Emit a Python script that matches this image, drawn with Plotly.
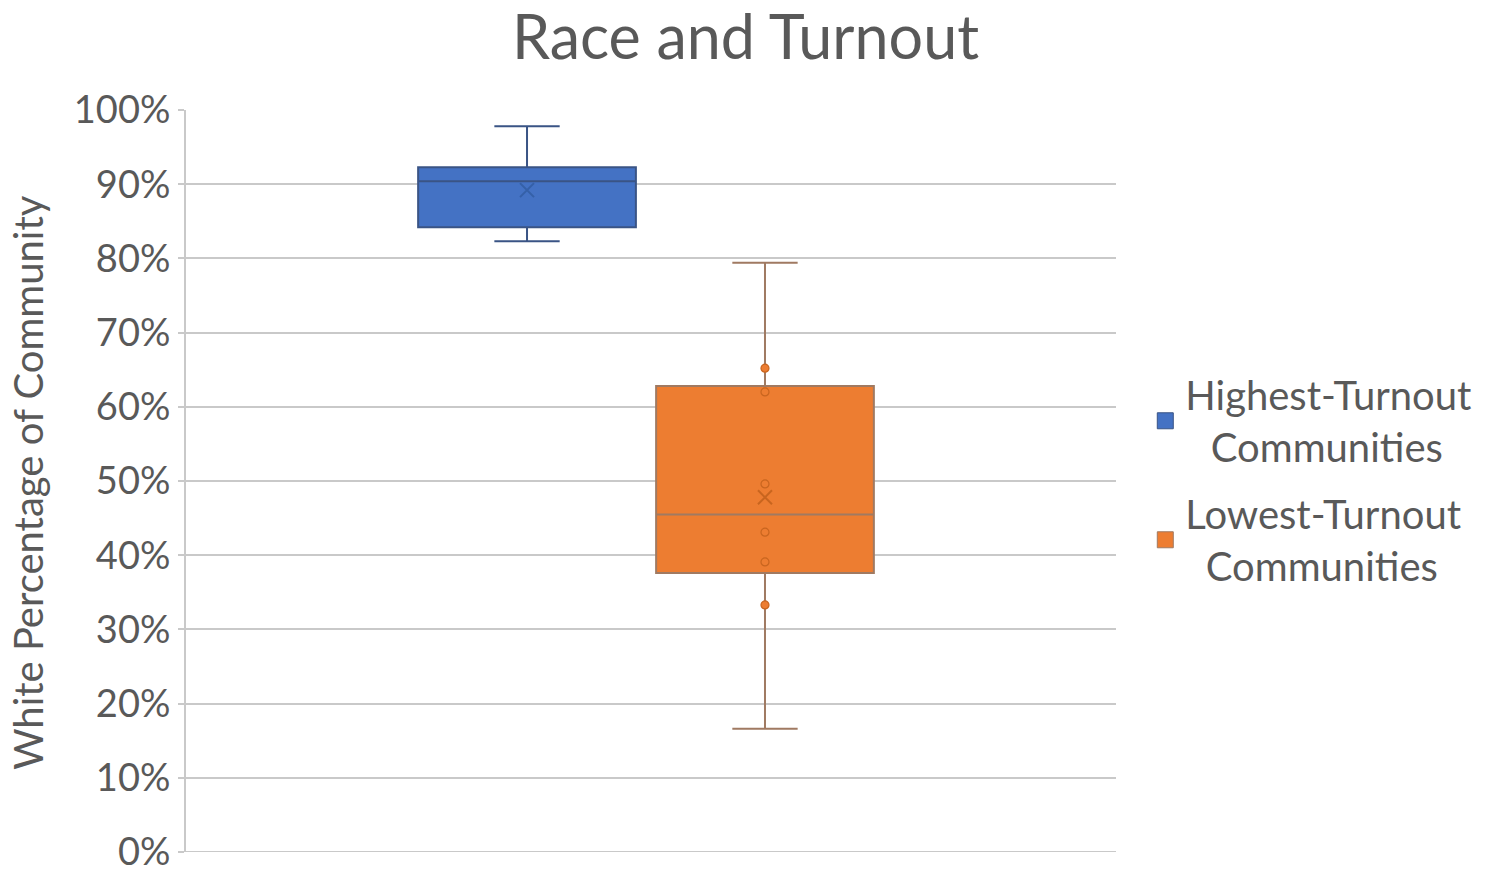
import plotly.graph_objects as go

# ---- data (percent white of community) ----
series_names = ["Highest-Turnout<br>\u00a0\u00a0\u2009Communities",
                "Lowest-Turnout<br>\u00a0\u00a0Communities"]
series_pos = [0, 1]
lower_whisker = [82.3, 16.6]
q1_vals = [84.2, 37.6]
median_vals = [90.4, 45.5]
q3_vals = [92.3, 62.8]
upper_whisker = [97.8, 79.4]
mean_vals = [89.2, 47.8]
inner_points_low = [65.2, 62.0, 49.6, 43.1, 39.1, 33.3]
y_ticks = [0, 10, 20, 30, 40, 50, 60, 70, 80, 90, 100]
y_tick_text = ["0%", "10%", "20%", "30%", "40%", "50%", "60%", "70%", "80%", "90%", "100%"]

fills = ["#4472C4", "#ED7D31"]
lines = ["#3A5485", "#A07A62"]
mark_lines = ["#3560A8", "#C8651F"]

FONT = "Lato"
GREY = "#595959"

fig = go.Figure()

for i in range(2):
    fig.add_trace(go.Box(
        x=[series_pos[i]],
        q1=[q1_vals[i]], median=[median_vals[i]], q3=[q3_vals[i]],
        lowerfence=[lower_whisker[i]], upperfence=[upper_whisker[i]],
        fillcolor=fills[i],
        line=dict(color=lines[i], width=2),
        width=0.915, whiskerwidth=0.3,
        boxpoints=False, showlegend=False, hoverinfo="skip",
    ))

# inner points for lowest-turnout
fig.add_trace(go.Scatter(
    x=[series_pos[1]] * len(inner_points_low), y=inner_points_low,
    mode="markers",
    marker=dict(symbol="circle", size=8, color=fills[1],
                line=dict(color=mark_lines[1], width=1.2)),
    showlegend=False, hoverinfo="skip",
))

# mean markers
for i in range(2):
    fig.add_trace(go.Scatter(
        x=[series_pos[i]], y=[mean_vals[i]], mode="markers",
        marker=dict(symbol="x-thin-open", size=14, color=mark_lines[i],
                    line=dict(color=mark_lines[i], width=2)),
        showlegend=False, hoverinfo="skip",
    ))

# legend entries
for i in range(2):
    fig.add_trace(go.Scatter(
        x=[None], y=[None], mode="markers", name=series_names[i],
        legendgroup="g%d" % i,
        marker=dict(symbol="square", size=19, color=fills[i],
                    line=dict(color=lines[i], width=1)),
    ))

fig.update_layout(
    width=1491, height=871,
    paper_bgcolor="white", plot_bgcolor="white",
    margin=dict(l=186, r=375, t=110, b=19, autoexpand=False),
    title=dict(text="Race and Turnout", x=0.5, xanchor="center",
               y=0.957, yanchor="middle",
               font=dict(family=FONT, size=61, color=GREY)),
    xaxis=dict(range=[-1.433, 2.475], showgrid=False, zeroline=False,
               showticklabels=False, showline=False, fixedrange=True,
               automargin=False),
    yaxis=dict(range=[0, 100], tickvals=y_ticks, ticktext=y_tick_text,
               showgrid=True, gridcolor="#C9C9C9", gridwidth=2,
               zeroline=False, showline=True, linecolor="#C9C9C9", linewidth=2,
               ticks="outside", ticklen=6, tickcolor="#C9C9C9", tickwidth=2,
               ticklabeloverflow="allow", automargin=False,
               tickfont=dict(family=FONT, size=38, color=GREY)),
    legend=dict(x=1.0315, xanchor="left", y=0.66, yanchor="top",
                font=dict(family=FONT, size=40, color=GREY),
                tracegroupgap=12, itemwidth=30),
    showlegend=True,
    annotations=[dict(text="White Percentage of Community", textangle=-90,
                      xref="paper", yref="paper", x=-0.17, y=0.4987,
                      xanchor="center", yanchor="middle", showarrow=False,
                      font=dict(family=FONT, size=40, color=GREY))],
)

# bottom axis line at 0%
fig.add_shape(type="line", xref="paper", yref="y", x0=0, x1=1, y0=0, y1=0,
              line=dict(color="#C9C9C9", width=2))

fig.write_html("out.html", config={"responsive": False, "displayModeBar": False},
               post_script="document.body.style.margin='0';")
